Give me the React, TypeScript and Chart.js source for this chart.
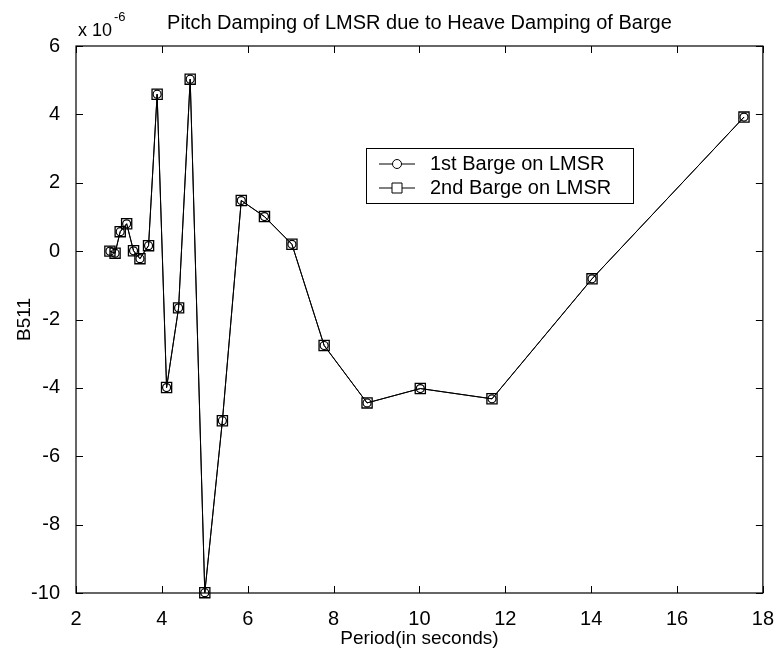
import React, { useEffect, useRef } from "react";
import { Chart, registerables } from "chart.js";

Chart.register(...registerables);

// Wave period (s) and pitch damping B511 (in units of 1e-6)
const periods = [2.79, 2.91, 3.03, 3.18, 3.34, 3.49, 3.69, 3.89, 4.11, 4.39, 4.66, 5.0, 5.41, 5.85, 6.39, 7.03, 7.78, 8.78, 10.02, 11.69, 14.02, 17.56];
const firstBarge = [0.0, -0.06, 0.57, 0.8, 0.01, -0.22, 0.16, 4.59, -3.99, -1.66, 5.03, -9.99, -4.96, 1.48, 1.01, 0.2, -2.76, -4.44, -4.02, -4.32, -0.81, 3.92];
const secondBarge = [0.0, -0.06, 0.57, 0.8, 0.01, -0.22, 0.16, 4.59, -3.99, -1.66, 5.03, -9.99, -4.96, 1.48, 1.01, 0.2, -2.76, -4.44, -4.02, -4.32, -0.81, 3.92];

const seriesLabels = ["1st Barge on LMSR", "2nd Barge on LMSR"];
const chartTitle = "Pitch Damping of LMSR due to Heave Damping of Barge";
const xTitle = "Period(in seconds)";
const yTitle = "B511";
const xTicks = [2, 4, 6, 8, 10, 12, 14, 16, 18];
const yTicks = [-10, -8, -6, -4, -2, 0, 2, 4, 6];

const FONT = "'Liberation Sans', Arial, sans-serif";

// MATLAB-style box with inward tick marks, title, exponent and legend
const framePlugin = {
  id: "frame",
  afterDatasetsDraw(chart: any) {
    const { ctx, chartArea } = chart;
    const { left, right, top, bottom } = chartArea;
    const xs = chart.scales.x;
    const ys = chart.scales.y;
    const tl = 7;
    ctx.save();
    ctx.strokeStyle = "#000";
    ctx.lineWidth = 1.2;
    ctx.strokeRect(left, top, right - left, bottom - top);
    ctx.lineWidth = 1;
    ctx.beginPath();
    xTicks.forEach((v) => {
      const px = Math.round(xs.getPixelForValue(v)) + 0.5;
      ctx.moveTo(px, bottom);
      ctx.lineTo(px, bottom - tl);
      ctx.moveTo(px, top);
      ctx.lineTo(px, top + tl);
    });
    yTicks.forEach((v) => {
      const py = Math.round(ys.getPixelForValue(v)) + 0.5;
      ctx.moveTo(left, py);
      ctx.lineTo(left + tl, py);
      ctx.moveTo(right, py);
      ctx.lineTo(right - tl, py);
    });
    ctx.stroke();

    // title
    ctx.fillStyle = "#000";
    ctx.textAlign = "center";
    ctx.textBaseline = "alphabetic";
    ctx.font = `20px ${FONT}`;
    ctx.fillText(chartTitle, (left + right) / 2, 29);

    // exponent marker
    ctx.textAlign = "left";
    ctx.font = `18px ${FONT}`;
    const base = "x 10";
    const bx = left + 2;
    ctx.fillText(base, bx, 36);
    const bw = ctx.measureText(base).width;
    ctx.font = `13px ${FONT}`;
    ctx.fillText("-6", bx + bw + 2, 21);

    // legend
    const lx = 366, ly = 148, lw = 267, lh = 55;
    ctx.fillStyle = "#fff";
    ctx.fillRect(lx, ly, lw, lh);
    ctx.strokeStyle = "#000";
    ctx.lineWidth = 1;
    ctx.strokeRect(lx + 0.5, ly + 0.5, lw, lh);
    chart.data.datasets.forEach((ds: any, i: number) => {
      const cy = 164 + i * 24;
      ctx.beginPath();
      ctx.moveTo(379, cy);
      ctx.lineTo(415, cy);
      ctx.stroke();
      ctx.beginPath();
      if (ds.pointStyle === "rect") {
        ctx.rect(392, cy - 5, 10, 10);
      } else {
        ctx.arc(397, cy, 4.5, 0, Math.PI * 2);
      }
      ctx.fillStyle = "#fff";
      ctx.fill();
      ctx.stroke();
      ctx.fillStyle = "#000";
      ctx.font = `20px ${FONT}`;
      ctx.textAlign = "left";
      ctx.textBaseline = "middle";
      ctx.fillText(ds.label, 430, cy);
    });
    ctx.restore();
  },
};

export default function App() {
  const canvasRef = useRef<HTMLCanvasElement | null>(null);

  useEffect(() => {
    if (!canvasRef.current) return;
    const chart = new Chart(canvasRef.current, {
      type: "line",
      data: {
        datasets: [
          {
            label: seriesLabels[0],
            data: periods.map((p, i) => ({ x: p, y: firstBarge[i] })),
            borderColor: "#000",
            borderWidth: 1,
            pointStyle: "circle",
            pointRadius: 4,
            pointBorderWidth: 1.2,
            pointBorderColor: "#000",
            pointBackgroundColor: "rgba(0,0,0,0)",
            tension: 0,
            clip: false,
          },
          {
            label: seriesLabels[1],
            data: periods.map((p, i) => ({ x: p, y: secondBarge[i] })),
            borderColor: "#000",
            borderWidth: 1,
            pointStyle: "rect",
            pointRadius: 7.2,
            pointBorderWidth: 1.3,
            pointBorderColor: "#000",
            pointBackgroundColor: "rgba(0,0,0,0)",
            tension: 0,
            clip: false,
          },
        ],
      },
      options: {
        animation: false,
        responsive: true,
        maintainAspectRatio: false,
        layout: { padding: { left: 0, right: 12, top: 46, bottom: 0 } },
        plugins: { legend: { display: false }, tooltip: { enabled: false }, title: { display: false } },
        scales: {
          x: {
            type: "linear",
            min: 2,
            max: 18,
            afterFit: (s: any) => {
              s.height = 59;
            },
            afterBuildTicks: (s: any) => {
              s.ticks = xTicks.map((v) => ({ value: v }));
            },
            grid: { display: false },
            border: { display: false },
            ticks: { color: "#000", font: { family: FONT, size: 20 }, padding: 6, maxRotation: 0 },
            title: { display: true, text: xTitle, color: "#000", font: { family: FONT, size: 19 }, padding: { top: 0, bottom: 2 } },
          },
          y: {
            type: "linear",
            min: -10,
            max: 6,
            afterFit: (s: any) => {
              s.width = 76;
            },
            afterBuildTicks: (s: any) => {
              s.ticks = yTicks.map((v) => ({ value: v }));
            },
            grid: { display: false },
            border: { display: false },
            ticks: { color: "#000", font: { family: FONT, size: 20 }, padding: 8 },
            title: { display: true, text: yTitle, color: "#000", font: { family: FONT, size: 19 }, padding: { top: 13, bottom: 0 } },
          },
        },
      },
      plugins: [framePlugin],
    });
    return () => chart.destroy();
  }, []);

  return (
    <div style={{ position: "fixed", left: 0, top: 0, width: 780, height: 652, background: "#fff" }}>
      <canvas ref={canvasRef} />
    </div>
  );
}
